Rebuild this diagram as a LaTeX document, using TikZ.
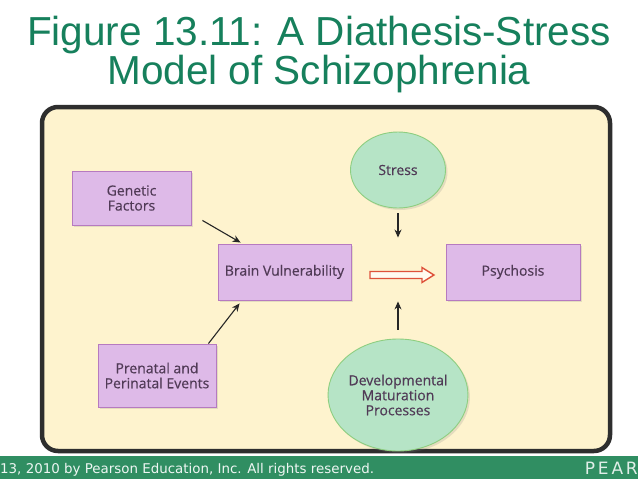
\documentclass[tikz,border=0pt]{standalone}
\usepackage{fontspec}
\setmainfont{Liberation Sans}
\newfontfamily\boxfont[FakeBold=0.4]{Open Sans}
\newfontfamily\footfont{DejaVu Sans}
\usetikzlibrary{arrows.meta,shapes.geometric,shadows,calc}

\definecolor{titlegreen}{RGB}{22,128,92}
\definecolor{paper}{RGB}{254,243,206}
\definecolor{lilac}{RGB}{222,186,232}
\definecolor{lilacedge}{RGB}{182,122,192}
\definecolor{mint}{RGB}{182,228,198}
\definecolor{mintedge}{RGB}{142,206,128}
\definecolor{boxtext}{RGB}{80,58,86}
\definecolor{hollowred}{RGB}{222,82,58}
\definecolor{footgreen}{RGB}{48,142,98}

\tikzset{
  factor/.style={draw=lilacedge, fill=lilac, line width=0.9pt, text=boxtext,
    font=\boxfont\fontsize{14}{15}\selectfont, align=center, inner sep=0pt,
    drop shadow={shadow xshift=2pt, shadow yshift=-2pt, opacity=0.2}},
  event/.style={ellipse, draw=mintedge, fill=mint, line width=0.9pt, text=boxtext,
    font=\boxfont\fontsize{14}{15}\selectfont, align=center, inner sep=0pt,
    drop shadow={shadow xshift=2pt, shadow yshift=-2pt, opacity=0.2}},
  conn/.style={-{Stealth[length=8pt,width=7pt]}, line width=1.1pt, draw=black!85},
  hollow/.style={draw=hollowred, fill=white!70!paper, line width=1.4pt, line join=miter},
}

\begin{document}
\begin{tikzpicture}[x=1pt, y=-1pt]
\useasboundingbox (0,0) rectangle (638,479);
\fill[white] (0,0) rectangle (638,479);
%%%%% Title %%%%%
\node[anchor=north, inner sep=0pt, text=titlegreen, align=center,
  font=\fontsize{40.5}{37}\selectfont] (title) at (319,16)
  {Figure 13.11: A Diathesis-Stress\\Model of Schizophrenia};
%%%%% Frame %%%%%
\draw[line width=4.5pt, draw=black!82, fill=paper, rounded corners=16pt]
  (42,107) rectangle (610,451);
%%%%% Boxes %%%%%
\node[factor, minimum width=119pt, minimum height=54pt] (gen) at (131.5,198) {Genetic\\Factors};
\node[factor, minimum width=133pt, minimum height=56pt] (bv) at (284.5,272) {Brain Vulnerability};
\node[factor, minimum width=134pt, minimum height=56pt] (psy) at (513,272) {Psychosis};
\node[factor, minimum width=118pt, minimum height=63pt] (pre) at (157,375.5) {Prenatal and\\Perinatal Events};
\node[event, minimum width=95pt, minimum height=76pt] (stress) at (398,170) {Stress};
\node[event, minimum width=120pt, minimum height=112pt] (dev) at (398,395) {Developmental\\Maturation\\Processes};
%%%%% Arrows %%%%%
\draw[conn] ([xshift=11pt, yshift=5pt]gen.south east) -- ([xshift=23pt, yshift=1pt]bv.north west);
\draw[conn] ([xshift=-8pt]pre.north east) -- ([xshift=22pt, yshift=-3pt]bv.south west);
\draw[conn, shorten <=5pt, shorten >=6pt] (stress.south) -- (stress.south |- bv.north);
\draw[conn, shorten <=9pt, shorten >=1pt] (dev.north) -- (dev.north |- bv.south);
\coordinate (tail) at ($(bv.east)+(18.5,3)$);
\draw[hollow] (tail) ++(0,-3.5) -- ++(52,0) -- ++(0,-4) -- ++(12,7.5) -- ++(-12,7.5)
  -- ++(0,-4) -- ++(-52,0) -- cycle;
%%%%% Footer %%%%%
\fill[footgreen] (0,456) rectangle (638,479);
\node[anchor=base west, inner sep=0pt, text=white!92!footgreen, font=\footfont\fontsize{13.4}{15}\selectfont]
  (rights) at (0,473) {13, 2010 by Pearson Education, Inc. All rights reserved.};
\node[anchor=base east, inner sep=0pt, text=white!85!footgreen, font=\footfont\fontsize{17}{19}\selectfont]
  (logo) at (638,474) {P\,E\,A\,R};
\end{tikzpicture}
\end{document}
